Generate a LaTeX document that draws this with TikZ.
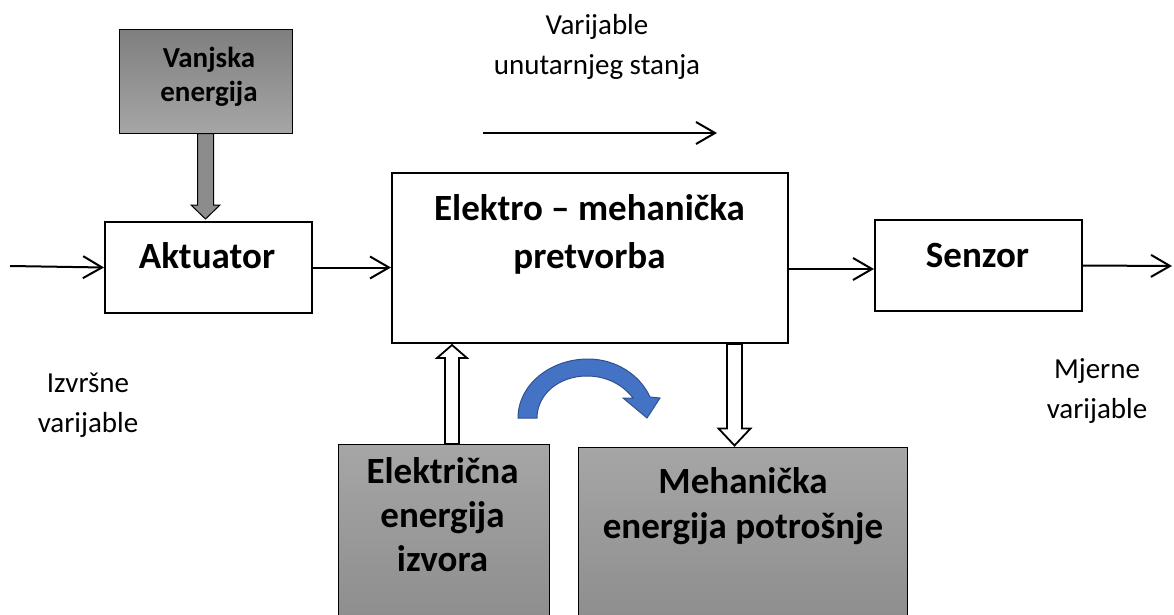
\documentclass[tikz,border=0pt]{standalone}
\usepackage{fontspec}
\setmainfont{Carlito}
\usetikzlibrary{arrows.meta,calc}
\definecolor{greyA}{HTML}{7F7F7F}
\definecolor{greyB}{HTML}{A6A6A6}
\definecolor{greyC}{HTML}{8C8C8C}
\definecolor{blueF}{HTML}{4472C4}
\definecolor{blueD}{HTML}{2F528F}
\begin{document}
\begin{tikzpicture}[x=1pt,y=-1pt,
  whitebox/.style={draw, line width=2pt, fill=white, inner sep=0pt},
  greybox/.style={draw, line width=1pt, inner sep=0pt},
  bigtext/.style={font=\bfseries\fontsize{37}{48}\selectfont, align=center, anchor=base, inner sep=0pt},
  smalltext/.style={font=\fontsize{29}{40}\selectfont, align=center, anchor=base, inner sep=0pt},
  arr/.style={line width=2pt, -{Straight Barb[length=19pt,width=22pt]}},
  hollow/.style={draw, line width=1.8pt, fill=white, line join=miter},
  greyarrow/.style={draw, line width=1pt, fill=greyA!90!white},
  bluearrow/.style={draw=blueD, line width=1pt, fill=blueF}
]
\useasboundingbox (0,0) rectangle (1174,615);
\clip (0,0) rectangle (1174,615);

% boxes
\node[greybox, top color=greyA, bottom color=greyB, minimum width=173pt, minimum height=103pt] (vanj) at (205.5,81.5) {};
\node[whitebox, minimum width=207pt, minimum height=91pt] (akt) at (208.5,267.5) {};
\node[whitebox, minimum width=396pt, minimum height=170pt] (elek) at (590,258) {};
\node[whitebox, minimum width=207pt, minimum height=91pt] (senz) at (978.5,265.5) {};
\node[greybox, top color=greyB, bottom color=greyC, minimum width=211pt, minimum height=186pt] (elik) at (443.5,537) {};
\node[greybox, top color=greyB, bottom color=greyC, minimum width=329pt, minimum height=183pt] (meh) at (742.5,538.5) {};

% texts (anchor base = baseline of last line)
\node[bigtext, font=\bfseries\fontsize{29}{34}\selectfont] (tvanj) at (209,102) {Vanjska\\energija};
\node[bigtext] (takt) at (207,268) {Aktuator};
\node[bigtext] (telek) at (589.5,268) {Elektro – mehanička\\pretvorba};
\node[bigtext] (tsenz) at (977.5,267) {Senzor};
\node[bigtext, font=\bfseries\fontsize{37}{44}\selectfont] (telik) at (442.5,571) {Električna\\energija\\izvora};
\node[bigtext, font=\bfseries\fontsize{37}{45}\selectfont] (tmeh) at (743,538) {Mehanička\\energija potrošnje};
\node[smalltext] (tvar) at (597,75) {Varijable\\unutarnjeg stanja};
\node[smalltext] (tizv) at (88,432) {Izvršne\\varijable};
\node[smalltext] (tmje) at (1097,418) {Mjerne\\varijable};

% line connectors
\coordinate (in) at (10,266);
\coordinate (out) at (1172,266);
\coordinate (t1) at (483,133);
\coordinate (t2) at (717,133);
\draw[arr] (in) -- (akt.west);
\draw[arr] (akt.east) -- (elek.west |- akt.east);
\draw[arr] (elek.east |- 0,269) -- (senz.west |- 0,269);
\draw[arr] (senz.east) -- (out);
\draw[arr] (t1) -- (t2);

% grey block arrow Vanjska -> Aktuator
\draw[greyarrow] ($(vanj.south)+(-8,0)$) -- ($(vanj.south |- akt.north)+(-8,-16)$) -- ++(-6.5,0)
  -- ($(vanj.south |- akt.north)+(0,-2)$) -- ($(vanj.south |- akt.north)+(14.5,-16)$) -- ++(-6.5,0)
  -- ($(vanj.south)+(8,0)$) -- cycle;

% hollow arrow Elektricna -> Elektro
\coordinate (ua) at (452,444);
\draw[hollow] ($(ua)+(-7,0)$) -- ($(ua |- elek.south)+(-7,14)$) -- ++(-8,0) -- ($(ua |- elek.south)+(0,1)$)
  -- ($(ua |- elek.south)+(15,14)$) -- ++(-8,0) -- ($(ua)+(7,0)$) -- cycle;

% hollow arrow Elektro -> Mehanicka
\coordinate (da) at (734.5,344);
\draw[hollow] ($(da)+(-7.5,0)$) -- ($(da |- meh.north)+(-7.5,-18)$) -- ++(-8.5,0) -- ($(da |- meh.north)+(0,-1)$)
  -- ($(da |- meh.north)+(16,-18)$) -- ++(-8.5,0) -- ($(da)+(7.5,0)$) -- cycle;

% curved blue arrow
\draw[bluearrow] (518,418) .. controls (518,385) and (550,359) .. (588,359)
  .. controls (616,359) and (640,375) .. (650,397) -- (660,398) -- (647,418) -- (623,398) -- (633,398)
  .. controls (624,386) and (608,376) .. (587,376)
  .. controls (558,376) and (537,395) .. (537,418) -- cycle;
\end{tikzpicture}
\end{document}
